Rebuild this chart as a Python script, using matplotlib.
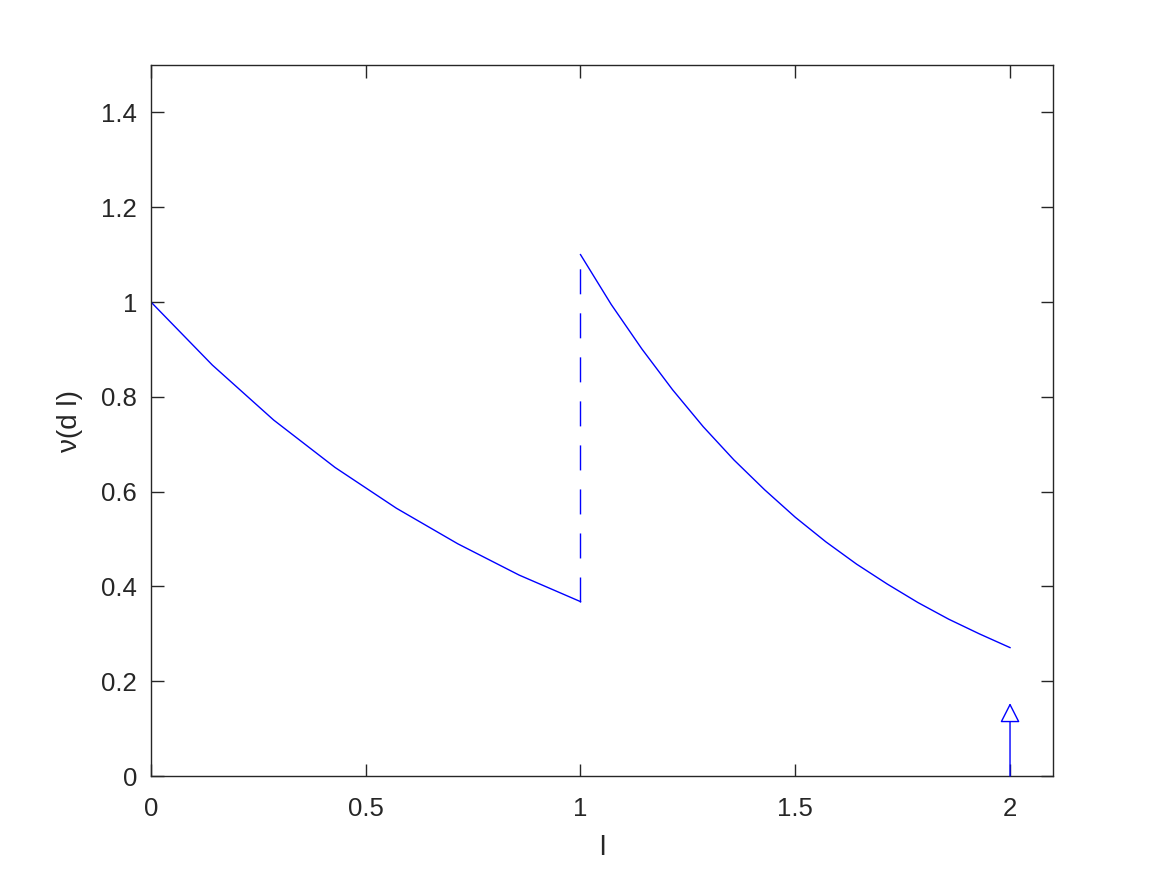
import matplotlib
matplotlib.use('Agg')
import matplotlib.pyplot as plt

# values
seg1_x = [0, 0.1429, 0.2857, 0.4286, 0.5714, 0.7143, 0.8571, 1.0]
seg1_y = [1.0, 0.867, 0.751, 0.651, 0.565, 0.490, 0.424, 0.368]
seg2_x = [1.0, 1.0714, 1.1429, 1.2143, 1.2857, 1.3571, 1.4286, 1.5,
          1.5714, 1.6429, 1.7143, 1.7857, 1.8571, 1.9286, 2.0]
seg2_y = [1.1, 0.995, 0.901, 0.815, 0.737, 0.667, 0.604, 0.546,
          0.494, 0.447, 0.405, 0.366, 0.331, 0.300, 0.271]
jump_x = 1.0
jump_y = [0.368, 1.1]
atom_x = 2.0
atom_h = 0.154

xticks = [0, 0.5, 1, 1.5, 2]
xticklabels = ['0', '0.5', '1', '1.5', '2']
yticks = [0, 0.2, 0.4, 0.6, 0.8, 1.0, 1.2, 1.4]
yticklabels = ['0', '0.2', '0.4', '0.6', '0.8', '1', '1.2', '1.4']

plt.rcParams['font.family'] = ['Liberation Sans', 'DejaVu Sans']
txt = '#262626'

fig = plt.figure(figsize=(11.63, 8.72), dpi=100)
ax = fig.add_axes([0.1298, 0.110, 0.7756, 0.8155])

ax.plot(seg1_x, seg1_y, color='blue', lw=1.0)
ax.plot(seg2_x, seg2_y, color='blue', lw=1.0)
ax.plot([jump_x, jump_x], jump_y, color='blue', lw=1.0, dashes=(18, 13.7))
ax.annotate('', xy=(atom_x, atom_h), xytext=(atom_x, 0),
            arrowprops=dict(arrowstyle='-|>,head_length=0.61,head_width=0.31',
                            fc='white', ec='blue', lw=1.0,
                            shrinkA=0, shrinkB=0, mutation_scale=20))

ax.set_xlim(0, 2.1)
ax.set_ylim(0, 1.5)
ax.set_xticks(xticks)
ax.set_xticklabels(xticklabels)
ax.set_yticks(yticks)
ax.set_yticklabels(yticklabels)
ax.tick_params(direction='in', length=9, width=1, color=txt, labelcolor=txt,
               labelsize=18.5, top=True, right=True)
ax.tick_params(axis='x', pad=15)
ax.tick_params(axis='y', pad=10)
for s in ax.spines.values():
    s.set_color(txt)
    s.set_linewidth(1)

ax.set_xlabel('l', fontsize=20, color=txt, labelpad=10)
ax.set_ylabel('ν(d l)', fontsize=20, color=txt, labelpad=13)

fig.savefig('out.png', dpi=100, facecolor='white')
